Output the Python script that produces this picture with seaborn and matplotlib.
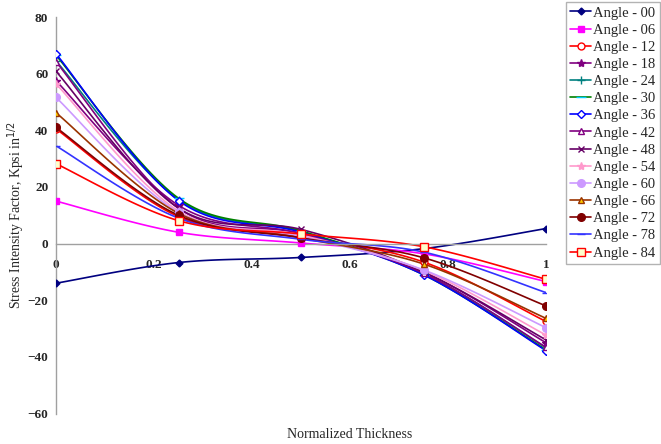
import numpy as np
import pandas as pd
import matplotlib
matplotlib.use("Agg")
import matplotlib.pyplot as plt
from matplotlib.lines import Line2D
import seaborn as sns

# Normalized thickness positions of the computed points
thickness = [0.0, 0.25, 0.5, 0.75, 1.0]

# Stress intensity factor (Kpsi in^1/2) for each crack-front angle
angle_00 = [-14.0, -6.7, -4.9, -1.8, 5.3]
angle_06 = [15.0, 4.0, 0.2, -3.6, -13.4]
angle_12 = [40.5, 9.5, 2.5, -6.5, -27.5]
angle_18 = [57.5, 13.5, 3.5, -10.0, -35.0]
angle_24 = [64.5, 15.5, 4.2, -10.5, -36.8]
angle_30 = [66.5, 16.0, 4.5, -11.0, -37.5]
angle_36 = [67.0, 15.2, 4.0, -11.0, -37.8]
angle_42 = [64.2, 12.5, 3.5, -10.5, -36.6]
angle_48 = [60.8, 12.5, 5.0, -10.0, -34.0]
angle_54 = [56.4, 11.5, 3.0, -9.5, -32.3]
angle_60 = [51.6, 11.0, 2.5, -9.3, -29.7]
angle_66 = [46.2, 10.7, 2.0, -7.2, -26.4]
angle_72 = [41.0, 10.0, 2.0, -5.0, -22.0]
angle_78 = [34.5, 9.0, 1.5, -3.0, -17.3]
angle_84 = [28.2, 8.1, 3.4, -1.1, -12.6]

labels = ["Angle - 00", "Angle - 06", "Angle - 12", "Angle - 18", "Angle - 24",
          "Angle - 30", "Angle - 36", "Angle - 42", "Angle - 48", "Angle - 54",
          "Angle - 60", "Angle - 66", "Angle - 72", "Angle - 78", "Angle - 84"]
series = [angle_00, angle_06, angle_12, angle_18, angle_24, angle_30, angle_36,
          angle_42, angle_48, angle_54, angle_60, angle_66, angle_72, angle_78,
          angle_84]

x_ticks = [0, 0.2, 0.4, 0.6, 0.8, 1]
x_tick_labels = ["0", "0.2", "0.4", "0.6", "0.8", "1"]
y_ticks = [-60, -40, -20, 0, 20, 40, 60, 80]

# line colour, marker, marker size, marker face, marker edge
styles = [
    ("#000080", "D", 3.5, "#000080", "#000080"),
    ("#FF00FF", "s", 5, "#FF00FF", "#FF00FF"),
    ("#FF0000", "o", 5, "white", "#FF0000"),
    ("#800080", "*", 6, "#800080", "#800080"),
    ("#008080", "+", 6, "#008080", "#008080"),
    ("#008000", "_", 7, "#00CCFF", "#00CCFF"),
    ("#0000FF", "D", 4.5, "white", "#0000FF"),
    ("#800080", "^", 5, "white", "#800080"),
    ("#660066", "x", 5, "#660066", "#660066"),
    ("#FF99CC", "*", 6, "#FF99CC", "#FF99CC"),
    ("#CC99FF", "o", 5.5, "#CC99FF", "#CC99FF"),
    ("#993300", "^", 5, "#FFCC00", "#993300"),
    ("#800000", "o", 5.5, "#800000", "#800000"),
    ("#3333FF", "_", 6, "#3333FF", "#3333FF"),
    ("#FF0000", "s", 6, "#FFFFCC", "#FF0000"),
]


def smooth_curve(xs, ys, n=30):
    """Bezier smoothing through the points (Catmull-Rom style control points)."""
    p = np.column_stack([xs, ys]).astype(float)
    ext = np.vstack([p[0], p, p[-1]])
    out = []
    t = np.linspace(0, 1, n)[:, None]
    for i in range(len(p) - 1):
        p0, p1, p2, p3 = ext[i], ext[i + 1], ext[i + 2], ext[i + 3]
        c1 = p1 + (p2 - p0) / 6.0
        c2 = p2 - (p3 - p1) / 6.0
        seg = ((1 - t) ** 3) * p1 + 3 * ((1 - t) ** 2) * t * c1 \
            + 3 * (1 - t) * t ** 2 * c2 + t ** 3 * p2
        out.append(seg if i == 0 else seg[1:])
    seg = np.vstack(out)
    return seg[:, 0], seg[:, 1]


sns.set_style("white")
plt.rcParams["font.family"] = ["Liberation Serif", "DejaVu Serif"]

fig = plt.figure(figsize=(6.61, 4.44), dpi=100)
ax = fig.add_axes([56 / 661, 30.5 / 444, 490 / 661, 396.5 / 444])

handles = []
for lab, ys, (col, mk, ms, fc, ec) in zip(labels, series, styles):
    sx, sy = smooth_curve(thickness, ys)
    curve = pd.DataFrame({"x": sx, "y": sy})
    sns.lineplot(data=curve, x="x", y="y", ax=ax, color=col, lw=1.2,
                 sort=False, estimator=None)
    ax.plot(thickness, ys, linestyle="none", marker=mk, ms=ms,
            mfc=fc, mec=ec, mew=1.0, zorder=3)
    handles.append(Line2D([0], [0], color=col, lw=1.2, marker=mk, ms=ms,
                          mfc=fc, mec=ec, mew=1.0))

ax.set_xlim(0, 1)
ax.set_ylim(-60, 80)
ax.set_xticks(x_ticks)
ax.set_xticklabels(x_tick_labels)
ax.set_yticks(y_ticks)
ax.set_xlabel("")
ax.set_ylabel("Stress Intensity Factor, Kpsi in$^{1/2}$", fontsize=10)
ax.yaxis.set_label_coords(-29 / 490, 0.5)

for side in ("top", "right"):
    ax.spines[side].set_visible(False)
ax.spines["bottom"].set_position(("data", 0))
for side in ("left", "bottom"):
    ax.spines[side].set_color("#A0A0A0")
    ax.spines[side].set_linewidth(1.0)

ax.tick_params(axis="both", direction="out", length=4, width=1.0,
               color="#A0A0A0", labelsize=9.5)
ax.tick_params(axis="x", pad=7)
ax.tick_params(axis="y", pad=1.5)
for t in ax.get_xticklabels() + ax.get_yticklabels():
    t.set_fontweight("bold")

fig.text(350 / 661, 1 - 434 / 444, "Normalized Thickness", ha="center",
         va="center", fontsize=10)

leg = fig.legend(handles, labels, loc="upper left",
                 bbox_to_anchor=(566 / 661, 1 - 2 / 444), frameon=True,
                 fontsize=10.5, handlelength=1.4, handletextpad=0.15,
                 labelspacing=0.27, borderpad=0.3, borderaxespad=0,
                 fancybox=False)
leg.get_frame().set_edgecolor("#A0A0A0")
leg.get_frame().set_linewidth(1.0)

fig.savefig("out.png", dpi=100)
